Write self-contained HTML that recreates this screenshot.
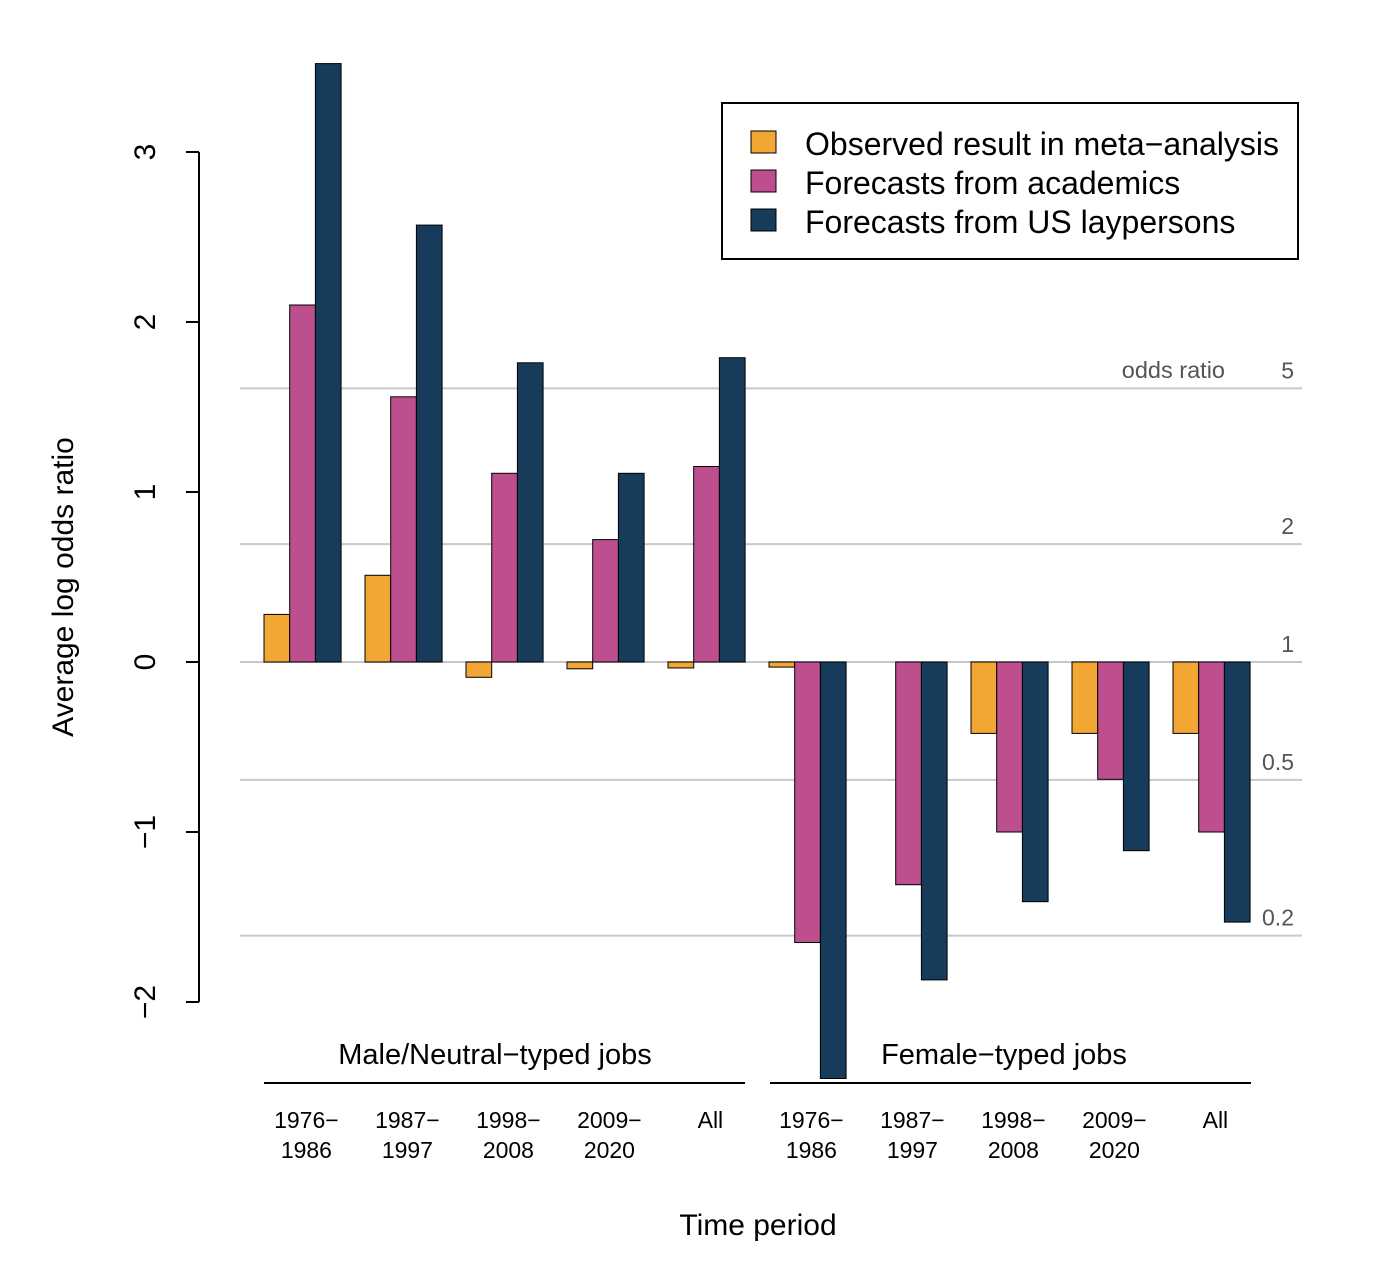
<!DOCTYPE html>
<html><head><meta charset="utf-8"><style>
body{margin:0;background:#fff}
svg{display:block;font-family:"Liberation Sans",sans-serif}
</style></head><body>
<svg id="chart" width="1398" height="1288" viewBox="0 0 1398 1288">
<g id="grid"></g>
<g id="bars"></g>
<g id="axis"></g>
<g id="legend">
<rect x="722" y="103" width="576" height="156" fill="#fff" stroke="#000" stroke-width="2"/>
<rect x="751" y="131" width="25" height="22" fill="#F2A634" stroke="#000"/>
<text x="805" y="155" font-size="32">Observed result in meta−analysis</text>
<rect x="751" y="170" width="25" height="22" fill="#BE4F8F" stroke="#000"/>
<text x="805" y="194" font-size="32">Forecasts from academics</text>
<rect x="751" y="209" width="25" height="22" fill="#173B5A" stroke="#000"/>
<text x="805" y="233" font-size="32">Forecasts from US laypersons</text>
</g>
<text x="1225" y="378" font-size="23.5" fill="#555" text-anchor="end">odds ratio</text>
<text x="495" y="1064" font-size="29" text-anchor="middle">Male/Neutral−typed jobs</text>
<line x1="264" y1="1083" x2="745" y2="1083" stroke="#000" stroke-width="2"/>
<text x="1004" y="1064" font-size="29" text-anchor="middle">Female−typed jobs</text>
<line x1="770" y1="1083" x2="1251" y2="1083" stroke="#000" stroke-width="2"/>
<text x="758" y="1235" font-size="30" text-anchor="middle">Time period</text>
<text transform="translate(73,587) rotate(-90)" font-size="30" text-anchor="middle">Average log odds ratio</text>
</svg>
<script>
const categories = ["1976−\n1986","1987−\n1997","1998−\n2008","2009−\n2020","All","1976−\n1986","1987−\n1997","1998−\n2008","2009−\n2020","All"];
const observed = [0.28,0.51,-0.09,-0.04,-0.035,-0.03,0,-0.42,-0.42,-0.42];
const academics = [2.10,1.56,1.11,0.72,1.15,-1.65,-1.31,-1.0,-0.69,-1.0];
const laypersons = [3.52,2.57,1.76,1.11,1.79,-2.45,-1.87,-1.41,-1.11,-1.53];
const yTicks = [-2,-1,0,1,2,3];
const oddsTicks = [5,2,1,0.5,0.2];
const oddsLabels = ["5","2","1","0.5","0.2"];

const NS="http://www.w3.org/2000/svg";
const y = v => 662 - v*170;
const groupX = i => 264 + i*101;
const bw = 25.7;
function mk(tag, attrs, parent){const e=document.createElementNS(NS,tag);for(const k in attrs)e.setAttribute(k,attrs[k]);parent.appendChild(e);return e;}
const grid=document.getElementById('grid'), bars=document.getElementById('bars'), axis=document.getElementById('axis');
oddsTicks.forEach((o,i)=>{
  const yy=y(Math.log(o));
  const l=mk('line',{x1:240,x2:1302,y1:yy,y2:yy,stroke:'#c8c8c8','stroke-width':2},grid);
  
  
  const t=mk('text',{x:1294,y:yy-10,'font-size':23,fill:'#555','text-anchor':'end'},grid);
  t.textContent=oddsLabels[i];
  
  
});
const series=[[observed,'#F2A634','observed'],[academics,'#BE4F8F','academics'],[laypersons,'#173B5A','laypersons']];
categories.forEach((c,i)=>{
  const gx=groupX(i);
  series.forEach(([vals,col,nm],s)=>{
    const v=vals[i]; if(v===0) return;
    const r=mk('rect',{x:gx+s*bw,y:Math.min(y(v),y(0)),width:bw,height:Math.abs(y(v)-y(0)),fill:col,stroke:'#000','stroke-width':1},bars);
    
    
  });
  const lines=c.split('\n');
  lines.forEach((ln,k)=>{
    const t=mk('text',{x:gx+bw*1.65,y:1128+k*30,'font-size':23,'text-anchor':'middle'},axis);
    t.textContent=ln;
    
    
  });
});
mk('line',{x1:199,x2:199,y1:y(3),y2:y(-2),stroke:'#000','stroke-width':2},axis);
yTicks.forEach(v=>{
  mk('line',{x1:186,x2:199,y1:y(v),y2:y(v),stroke:'#000','stroke-width':2},axis);
  const t=mk('text',{transform:`translate(155,${y(v)}) rotate(-90)`,'font-size':30,'text-anchor':'middle'},axis);
  t.textContent=v<0?'−'+Math.abs(v):String(v);
  
  
});
</script>
</body></html>
